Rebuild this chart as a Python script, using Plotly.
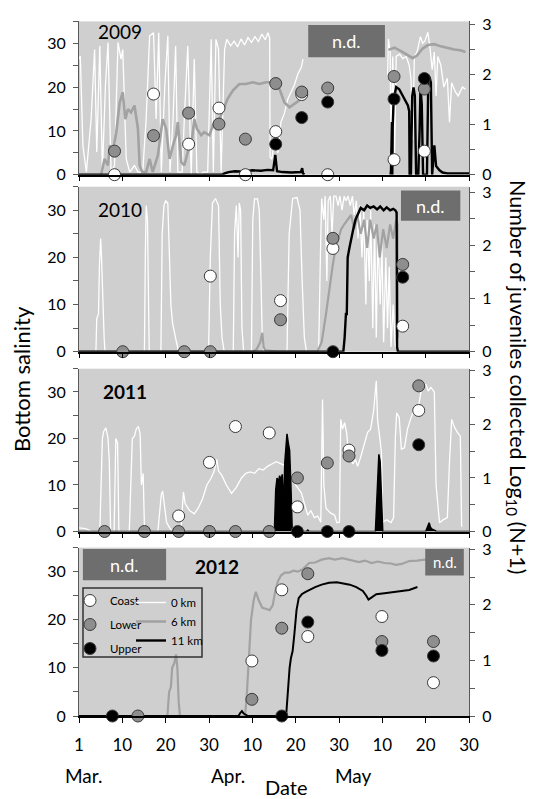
import plotly.graph_objects as go

# ---------------- axis / label data ----------------
# x = days since 1 March (0 = Mar 1 ... 90 = May 30)
tick_vals = [0, 10, 20, 30, 40, 50, 60, 70, 80, 90]
tick_text = ["1", "10", "20", "30", "10", "20", "30", "10", "20", "30"]
month_text = ["Mar.", "Apr.", "May"]
month_pos = [1.1, 34.4, 63.4]
years = ["2009", "2010", "2011", "2012"]

# ---------------- 2009 salinity lines ----------------
w09_day = [0, 0.3, 0.9, 1.7, 2.8, 3.6, 4.1, 4.8, 5.4, 6.1, 6.7, 7.4, 8.2, 9.0, 9.7, 10.1, 10.9, 11.7, 12.8, 13.6,
           14.7, 15.5, 16.3, 17.2, 17.8, 18.4, 19.0, 19.8, 20.5, 21.0, 21.7, 22.3, 22.8, 23.8, 24.3, 25.1, 25.9, 26.6,
           27.2, 27.9, 28.7, 29.7, 30.5, 31.0, 31.6, 32.2, 32.8, 33.2, 33.6, 34.1, 35.0, 35.8, 36.6, 37.4, 38.2, 39.0,
           39.8, 40.6, 41.4, 42.2, 43.0, 43.6, 44.0, 44.1, 44.5, 45.1, 45.9, 46.6, 47.4, 48.2, 49.0, 49.7, 50.5, 51.3,
           51.7, None, 71.2, 71.4, 71.8, 72.0, 72.4, 72.8, 73.2, 74.0, 74.7, 75.5, 76.2, 76.6, 77.0, 77.4, 78.0, 78.8,
           79.3, 79.8, 80.5, 81.0, 81.5, 82.0, 82.4, 82.8, 83.5, 84.2, 85.0, 85.5, 86.0, 86.8, 87.5, 88.5, 89.2]
w09_sal = [26.4, 27.1, 6.7, 0.6, 12.7, 28.6, 5.2, 29.4, 0.6, 20.3, 30.2, 0.6, 2.1, 30.2, 26.4, 28.6, 3.6, 0.6, 2.1, 0.6,
           0.6, 12.7, 31.7, 32.4, 12.7, 32.4, 0.6, 20.3, 31.7, 0.6, 12.7, 29.4, 0.6, 0.6, 12.7, 29.4, 0, 26.4,
           0.6, 0, 0.6, 0.6, 30.9, 0.6, 30.9, 28.6, 0.6, 12.7, 28.6, 30.9, 29.4, 30.5, 29.2, 31.0, 29.6, 31.3,
           30.2, 31.5, 30.4, 32.1, 30.8, 32.4, 31.2, 4.0, 3.5, 8, 5, 12, 14, 17.3, 19, 20.5, 23, 24.5,
           26.4, None, 22, 31, 28, 6, 27, 3, 27, 27.5, 26.5, 27, 25, 22, 8, 27, 28, 31.5,
           30, 30.5, 32.5, 29, 24, 28, 18, 27, 25, 20, 22, 12, 21, 19, 18, 20, 19.5]
g09_day = [5.1, 5.9, 6.7, 7.1, 7.8, 8.6, 9.4, 10.1, 10.7, 11.3, 12.0, 12.8, 13.6, 14.0, 14.6, 15.5, 16.3, 17.0, 18.2,
           19.3, 20.1, 20.9, 21.7, 22.4, 22.8, 23.6, 24.3, 25.1, 25.9, 26.6, 27.2, 28.2, 28.9, 30.1, 30.9, 31.6, 32.4,
           33.6, 34.3, 35.5, 37.0, 38.5, 40.1, 41.6, 43.2, 44.5, 45.1, 46.3, 47.4, 48.6, 49.7, 51.3, None,
           71.4, 72.8, 74.5, 75.8, 77.0, 78.0, 79.3, 80.5, 82.0, 83.5, 85.0, 86.6, 88.0, 89.2]
g09_sal = [0, 3.6, 2.1, 6.7, 5.2, 9.7, 16.5, 18.8, 12.7, 15.0, 14.2, 15.8, 10.5, 2.1, 0.6, 0.6, 3.6, 0.6, 4.4,
           12.7, 10.5, 3.6, 6.7, 9.0, 12.0, 2.9, 2.1, 5.2, 6.7, 12.7, 10.5, 9.0, 9.7, 9.0, 11.2, 10.5, 12.7,
           15.8, 17.3, 19.2, 20.7, 20.7, 21.1, 20.7, 21.1, 21.1, 21.1, 19.5, 16.5, 15.4, 16.1, 17.3, None,
           28.5, 29.0, 28.1, 27.3, 26.6, 27.2, 28.8, 29.6, 29.8, 29.3, 28.9, 28.6, 28.4, 28.0]
b09_day = [0, 33.0, 33.6, 34.5, 36.0, 38.0, 40.0, 42.0, 43.5, 44.8, 45.3, 45.7, 47.0, 49.0, 51.2, 51.5, 51.7, 52.0,
           None, 71.9, 72.0, 72.2, 72.3, 72.4, 72.6, 72.9, 73.2, 73.9, 74.7, 75.4, 75.9, 76.2, 76.3, 76.6, 76.9,
           77.2, 77.5, 77.8, 78.3, 78.6, 78.8, 79.1, 79.4, 80.3, 80.6, 80.9, 81.2, 81.5, 82.0, 82.4, 83.2, 83.9,
           85.0, 90.0]
b09_sal = [0, 0, 0.3, 0.6, 0.8, 0.7, 1.0, 0.9, 1.1, 1.0, 4.5, 0.8, 0.6, 0.5, 0.6, 1.5, 0.3, 0,
           None, 0, 1, 12, 0, 11, 17, 18.5, 20, 19.5, 18, 17, 15.8, 14.5, 0, 0, 18,
           19.9, 18, 0, 0, 10, 20, 16, 0, 0, 21.5, 22.3, 21, 0, 6.7, 2, 1, 0.5,
           0.3, 0.3]

# ---------------- 2010 salinity lines ----------------
w10_day = [0, 3.9, 4.1, 4.5, 4.7, 5.0, 5.2, 5.5, 5.8, 6.0, 15.1, 15.3, 15.5, 15.8, 16.2, 18.9, 19.2, 19.6, 20.0,
           20.5, 20.9, 21.2, 21.6, 22.0, 22.5, 23.0, 29.9, 30.3, 30.8, 31.5, 32.2, 32.6, 33.0, 33.5, 35.6, 35.9,
           36.3, 36.7, 37.0, 37.3, 37.6, 38.0, 39.8, 40.1, 40.5, 41.2, 41.6, 42.0, 42.3, 42.7, 48.0, 48.5, 49.3,
           50.3, 51.0, 51.5, 52.0, 52.5, 55.3, 55.7, 56.0, 56.5, 56.8, 57.2, 57.5, 58.0, 58.4, 58.8, 59.3, 59.8,
           60.2, 60.7, 61.2, 61.6, 62.1, 62.6, 63.1, 63.5, 64.0, 64.4, 64.8, 65.3, 65.7, 66.2, 66.5, 67.0, 67.3,
           67.8, 68.2, 68.6, 69.0, 69.5, 69.9, 70.3, 70.8, 71.2, 71.6, 72.0, 72.5, 73.0, 73.4]
w10_sal = [0, 0, 7, 8, 18, 24, 20, 9, 3, 0, 0, 20, 31, 28, 0, 0, 25, 31, 32,
           31.5, 20, 10, 6, 4, 2, 0, 0, 20, 31.5, 32.5, 31, 10, 3, 0, 0, 25,
           31, 20, 31.5, 30, 5, 0, 0, 28, 32.4, 32.4, 30, 15, 3, 0, 0, 25, 32.5,
           32.7, 30, 15, 3, 0, 0, 20, 32.5, 28, 33, 15, 32, 33, 25, 33, 33, 31,
           33, 30, 33, 32, 33, 31, 33, 29, 32, 24, 31, 20, 30, 10, 28, 15, 30,
           5, 27, 3, 25, 10, 23, 2, 20, 5, 18, 1, 10, 1, 2]
g10_day = [0, 40.0, 41.0, 41.8, 42.3, 42.6, 43.0, 44.0, 46.0, 55.0, 56.0, 57.0, 57.8, 58.5, 59.2, 59.8, 60.5, 61.2,
           62.0, 62.8, 63.5, 64.2, 65.0, 65.8, 66.5, 67.2, 68.0, 68.7, 69.4, 70.2, 71.0, 71.8, 72.5, 73.2, 73.5, 73.6]
g10_sal = [0, 0, 0.5, 2, 4, 1, 0.3, 0.2, 0, 0, 2, 8, 14, 18, 22, 24, 26, 27,
           28, 29, 26, 29, 25, 28, 22, 28, 24, 27, 20, 26, 22, 27, 24, 28, 27, 3]
b10_day = [0, 61.0, 61.3, 61.6, 61.8, 62.0, 62.4, 62.8, 63.3, 63.8, 64.3, 65.0, 65.8, 66.5, 67.2, 68.0, 68.8, 69.5,
           70.3, 71.0, 71.8, 72.5, 73.0, 73.3, 73.4, 73.6, 90]
b10_sal = [0, 0, 3, 8, 8, 20, 22, 24, 26, 28, 29, 30.5, 30, 31, 30.5, 30.8, 30.2, 30.8,
           30, 30.6, 30, 30.3, 30, 29.5, 1, 0, 0]

# ---------------- 2011 salinity lines ----------------
w11_day = [0, 1.5, 3.0, 4.8, 5.4, 5.7, 6.2, 6.7, 7.0, 7.3, 8.1, 8.5, 8.9, 9.2, 11.6, 12.0, 12.3, 12.8, 13.2, 13.7,
           14.1, 14.4, 14.8, 15.1, 15.5, 18.2, 18.6, 19.0, 19.3, 19.7, 20.2, 20.8, 21.5, 23.0, 23.5, 24.1, 24.5, 25.5,
           26.6, 27.5, 28.5, 29.5, 30.5, 31.2, 31.8, 32.2, 33.0, 34.0, 35.2, 36.3, 37.5, 38.5, 39.5, 40.5, 41.5, 42.5,
           43.5, 44.5, 45.5, 46.5, 47.5, 48.2, 49.0, 50.0, 51.3, 52.0, 52.8, 53.5, 54.3, 55.1, 55.8, 56.2, 56.5, 57.0,
           58.0, 59.0, 59.5, 60.1, 60.4, 60.8, 61.3, 61.8, 62.1, 62.6, 63.2, 63.8, 64.3, 65.0, 65.8, 66.6, 67.3, 68.0,
           68.6, 68.9, 69.3, 69.8, 70.1, 71.0, 72.0, 72.6, 73.0, 73.3, 73.9, 74.4, 75.1, 75.8, 76.5, 77.4, 78.0, 78.6,
           79.3, 80.1, 80.6, 81.2, 82.0, 82.4, 83.2, 84.0, 85.0, 85.5, 86.0, 86.6, 87.3, 88.0, 88.3]
w11_sal = [0.8, 0.6, 0, 0, 20, 21.5, 22.3, 20, 15, 0, 0, 20, 19, 0, 0, 10, 20, 20.5, 22, 22.6,
           21, 10, 12.5, 1, 0, 0, 5, 8, 8.7, 6, 2, 1, 0, 0, 0, 8.5, 6, 4.5,
           3.8, 5, 7, 10, 11.5, 13, 15.5, 13, 12, 10, 8.2, 9.5, 11.5, 12.5, 12.8, 12.5, 13.5, 13.2,
           14, 14.5, 15.0, 14.6, 14.2, 13.5, 11.9, 10, 8.3, 6, 3.5, 4.5, 3.0, 3.3, 2, 28.4, 10, 5.0,
           4.0, 3.5, 1.9, 2, 24.1, 22, 23.4, 21, 17.7, 16, 14.5, 15.5, 14, 16, 18.5, 21.3, 22, 26,
           32.4, 24, 21, 17, 2, 2.5, 1.9, 3, 20, 25.5, 24.5, 17.7, 18, 22, 24.1, 26.5, 25, 28,
           32.0, 31.5, 30.2, 31, 30, 10, 1.9, 2.5, 3, 15, 24.1, 22.5, 21.3, 20.5, 1]
b11_day = [0, 44.8, 45.1, 45.4, 45.7, 46.0, 46.3, 46.6, 46.9, 47.2, 47.5, 47.8, 48.0, 48.3, 48.6, 48.9, 49.2, 49.6,
           52.5, 52.8, 53.1, 68.4, 68.8, 69.2, 69.5, 69.8, 70.1, 80.0, 80.4, 80.8, 81.1, 81.5, 82.0, 82.5, 90]
b11_sal = [0, 0, 0.5, 9, 11.5, 10.5, 12, 11, 12.3, 5, 15, 20, 21, 19, 17.5, 10, 0.5, 0,
           0, 0.3, 0, 0, 8, 16.6, 15, 6, 0, 0, 0.8, 1.9, 0.9, 0.5, 0.3, 0, 0]

# ---------------- 2012 salinity lines ----------------
g12_day = [0, 20.4, 20.8, 21.2, 21.5, 22.0, 22.4, 22.7, 23.0, 23.3, 38.3, 38.7, 39.2, 39.7, 40.3, 40.8, 41.5, 42.3,
           43.1, 44.0, 44.7, 45.3, 45.9, 46.6, 47.5, 48.5, 49.5, 50.5, 51.6, 52.5, 53.1, 54.5, 56.0, 57.7, 59.0,
           60.8, 62.5, 64.6, 66.0, 67.5, 69.0, 70.5, 72.0, 73.1, 74.5, 76.2, 78.0, 79.3, 80.8]
g12_sal = [0, 0, 5, 6, 10, 11, 12.8, 10, 3, 0, 0, 4, 12, 20, 24, 25.8, 24, 22.5,
           22.3, 22, 23, 26, 28, 29.2, 29.8, 29.8, 30.2, 30, 30.5, 31.2, 31.8, 31.9, 32.5, 32.8, 32.5,
           32.8, 32.4, 32.0, 32.3, 31.8, 32.1, 31.8, 31.7, 31.4, 31.6, 32.2, 32.3, 32.5, 32.6]
b12_day = [0, 36.8, 37.2, 37.6, 38.0, 38.6, 39.0, 47.8, 48.0, 48.3, 48.6, 48.9, 49.3, 49.7, 50.2, 50.7, 51.4, 52.3,
           53.1, 54.5, 56.0, 57.7, 59.5, 60.8, 62.5, 64.0, 65.5, 66.3, 66.8, 67.3, 68.6, 70.5, 72.4, 74.5, 76.2, 78.1]
b12_sal = [0, 0, 0.6, 1, 0.5, 0.3, 0, 0, 3, 8, 10, 12, 13.5, 17, 22, 24.5, 25.3, 25.8,
           26.2, 26.8, 27.3, 27.7, 27.8, 27.6, 27.3, 26.8, 26, 25, 24.2, 24.5, 25.3, 25.5, 25.7, 26, 26.2, 26.8]

# ---------------- juveniles, log10(N+1) ----------------
d09 = [8.2, 17.2, 25.3, 32.3, 38.4, 45.4, 51.4, 57.4, 72.7, 79.7]
coast09 = [0, 1.61, 0.61, 1.33, 0, 0.86, 1.60, 0, 0.30, 0.47]
lower09 = [0.47, 0.78, 1.23, 1.01, 0.71, 1.82, 1.65, 1.73, 1.96, 1.71]
upper09 = [None, None, None, None, None, 0.61, 1.14, 1.45, 1.51, 1.92]

d10 = [10.1, 24.3, 30.3, 46.5, 58.6, 74.7]
coast10 = [None, None, 1.42, 0.96, 1.94, 0.48]
lower10 = [0, 0, 0, 0.60, 2.13, 1.64]
upper10 = [None, None, None, None, 0, 1.40]

d11 = [5.9, 15.1, 23.0, 30.1, 36.1, 43.9, 50.4, 57.3, 62.3, 78.4]
coast11 = [None, None, 0.29, 1.29, 1.96, 1.84, 0.46, None, 1.52, 2.26]
lower11 = [0, 0, 0, 0, 0, 0, 1.00, 1.28, 1.41, 2.72]
upper11 = [None, None, None, None, None, None, 0, 0, 0, 1.62]

d12 = [7.7, 13.6, 39.9, 46.8, 52.8, 69.9, 81.8]
coast12 = [None, None, 0.99, 2.27, 1.43, 1.79, 0.60]
lower12 = [None, 0, 0.30, 1.58, 2.56, 1.34, 1.34]
upper12 = [0, None, None, 0, 1.69, 1.18, 1.08]

# n.d. (no data) boxes: [x0, x1, y0, y1] in (day, salinity) per panel
nd_boxes = {1: [[52.9, 70.6, 26.8, 34.2]],
            2: [[74.3, 88.0, 27.8, 34.2]],
            4: [[0.9, 20.1, 28.2, 34.7], [79.9, 88.8, 29.2, 34.7]]}
nd_font = {1: [18], 2: [18], 4: [18, 15]}
year_pos = [(9.5, 32.6), (9.5, 30.2), (10.7, 30.0), (31.9, 31.1)]
year_bold = [False, False, True, True]

# ---------------- styling ----------------
FONT = "Lato, 'Open Sans', sans-serif"
W, H = 534, 799
ML, MR, MT, MB = 79, 65, 21, 83
PH = H - MT - MB
BOT = H - MB
panel_px = [(21.4, 174.7), (186.7, 351.7), (368.7, 531.5), (547.6, 716.0)]
right_top = [3.06, 3.1, 3.04, 3.03]
BG = "#cfcfcf"
WHITE_C, GRAY_L, BLACK_C = "#ffffff", "#a2a2a2", "#000000"
GRAY_M = "#8e8e8e"
AX = "#595959"

fig = go.Figure()


def ids(i):
    x = "x" if i == 1 else f"x{i}"
    yl = "y" if i == 1 else f"y{2 * i - 1}"
    yr = f"y{2 * i}"
    return x, yl, yr


def add_line(i, xs, ys, color, width, name, show, fill=None):
    x, yl, _ = ids(i)
    n = min(len(xs), len(ys))
    fig.add_trace(go.Scatter(x=xs[:n], y=ys[:n], mode="lines", line=dict(color=color, width=width),
                             xaxis=x, yaxis=yl, name=name, showlegend=show, legend="legend2",
                             connectgaps=False, fill=fill, fillcolor=color if fill else None,
                             hoverinfo="skip"))


def add_pts(i, xs, ys, fill, name, show):
    x, _, yr = ids(i)
    n = min(len(xs), len(ys))
    fig.add_trace(go.Scatter(x=xs[:n], y=ys[:n], mode="markers",
                             marker=dict(size=12, color=fill, line=dict(color="#3a3a3a", width=1)),
                             xaxis=x, yaxis=yr, name=name, showlegend=show, legend="legend",
                             legendgroup=name, cliponaxis=False, hoverinfo="skip"))


# 2009
add_line(1, w09_day, w09_sal, WHITE_C, 1.3, "0 km", True)
add_line(1, g09_day, g09_sal, GRAY_L, 2.6, "6 km", True)
add_line(1, b09_day, b09_sal, BLACK_C, 2.4, "11 km", True)
# 2010
add_line(2, w10_day, w10_sal, WHITE_C, 1.3, "0 km", False)
add_line(2, g10_day, g10_sal, GRAY_L, 2.2, "6 km", False)
add_line(2, b10_day, b10_sal, BLACK_C, 2.4, "11 km", False)
# 2011
add_line(3, w11_day, w11_sal, WHITE_C, 1.3, "0 km", False)
add_line(3, b11_day, b11_sal, BLACK_C, 1.5, "11 km", False, fill="tozeroy")
# 2012
add_line(4, g12_day, g12_sal, GRAY_L, 2.2, "6 km", False)
add_line(4, b12_day, b12_sal, BLACK_C, 2.0, "11 km", False)

for i, (d, c, lo, up) in enumerate([(d09, coast09, lower09, upper09), (d10, coast10, lower10, upper10),
                                    (d11, coast11, lower11, upper11), (d12, coast12, lower12, upper12)], start=1):
    add_pts(i, d, c, "#ffffff", "Coast", i == 1)
    add_pts(i, d, lo, GRAY_M, "Lower", i == 1)
    add_pts(i, d, up, "#000000", "Upper", i == 1)

layout = dict(width=W, height=H, margin=dict(l=ML, r=MR, t=MT, b=MB), paper_bgcolor="white",
              plot_bgcolor=BG, font=dict(family=FONT, size=17, color="black"), hovermode=False)

shapes, annots = [], []
for i in range(1, 5):
    x, yl, yr = ids(i)
    top, bot = panel_px[i - 1]
    dom = [max(0.0, (BOT - bot) / PH), min(1.0, (BOT - top) / PH)]
    xa = dict(domain=[0, 1], range=[0, 90], anchor=yl, showline=True, linecolor="black", linewidth=1.5,
              ticks="outside", ticklen=5, tickcolor="black", tickvals=tick_vals, ticktext=tick_text,
              showticklabels=(i == 4), showgrid=False, zeroline=False, fixedrange=True,
              tickfont=dict(size=17), ticklabelstandoff=8)
    if i > 1:
        xa["matches"] = "x"
    layout["xaxis" if i == 1 else f"xaxis{i}"] = xa
    layout["yaxis" if i == 1 else f"yaxis{2 * i - 1}"] = dict(
        domain=dom, range=[0, 35], anchor=x, showline=True, linecolor=AX, linewidth=1, ticks="outside",
        ticklen=5, tickcolor=AX, tick0=0, dtick=10,
        minor=dict(ticks="outside", ticklen=5, tickcolor=AX, dtick=5, tick0=0, showgrid=False),
        showgrid=False, zeroline=False, fixedrange=True, tickfont=dict(size=16), ticklabelstandoff=4)
    layout[f"yaxis{2 * i}"] = dict(
        overlaying=yl, side="right", range=[0, right_top[i - 1]], anchor=x, showline=True, linecolor=AX,
        linewidth=1, ticks="outside", ticklen=5, tickcolor=AX, tick0=0, dtick=1,
        minor=dict(ticks="outside", ticklen=5, tickcolor=AX, dtick=0.5, tick0=0, showgrid=False),
        showgrid=False, zeroline=False, fixedrange=True, tickfont=dict(size=16), ticklabelstandoff=4)
    # year label
    yx, yy = year_pos[i - 1]
    txt = f"<b>{years[i - 1]}</b>" if year_bold[i - 1] else years[i - 1]
    annots.append(dict(x=yx, y=yy, xref=x, yref=yl, text=txt, showarrow=False, font=dict(size=19),
                       xanchor="center", yanchor="middle"))
    # n.d. boxes
    for k, (x0, x1, y0, y1) in enumerate(nd_boxes.get(i, [])):
        shapes.append(dict(type="rect", xref=x, yref=yl, x0=x0, x1=x1, y0=y0, y1=y1,
                           fillcolor="#6e6e6e", line=dict(width=0), layer="above"))
        annots.append(dict(x=(x0 + x1) / 2, y=(y0 + y1) / 2, xref=x, yref=yl, text="n.d.", showarrow=False,
                           font=dict(size=nd_font[i][k], color="white"), xanchor="center", yanchor="middle"))


def py(p):
    return (BOT - p) / PH


def px(p):
    return (p - ML) / (W - ML - MR)


# month labels and axis titles
for t, pos in zip(month_text, month_pos):
    annots.append(dict(x=pos, y=py(775), xref="x4", yref="paper", text=t, showarrow=False,
                       font=dict(size=19), xanchor="center", yanchor="middle"))
annots.append(dict(x=px(286), y=py(787), xref="paper", yref="paper", text="Date", showarrow=False,
                   font=dict(size=20), xanchor="center", yanchor="middle"))
annots.append(dict(x=px(21), y=py(379), xref="paper", yref="paper", text="Bottom salinity", showarrow=False,
                   font=dict(size=22), textangle=-90, xanchor="center", yanchor="middle"))
annots.append(dict(x=px(517), y=py(377), xref="paper", yref="paper",
                   text="Number of juveniles collected Log<sub>10</sub> (N+1)", showarrow=False,
                   font=dict(size=21.5), textangle=90, xanchor="center", yanchor="middle"))

# legend frame
shapes.append(dict(type="rect", xref="paper", yref="paper", x0=px(83), x1=px(202), y0=py(657), y1=py(588),
                   line=dict(color="#333333", width=1.5), fillcolor="rgba(0,0,0,0)", layer="above"))

layout["shapes"] = shapes
layout["annotations"] = annots
layout["legend"] = dict(x=px(70), y=py(586), xanchor="left", yanchor="top", bgcolor="rgba(0,0,0,0)",
                        borderwidth=0, font=dict(size=11.5), itemwidth=30, tracegroupgap=5,
                        traceorder="grouped", itemclick=False, itemdoubleclick=False)
layout["legend2"] = dict(x=px(131), y=py(588), xanchor="left", yanchor="top", bgcolor="rgba(0,0,0,0)",
                         borderwidth=0, font=dict(size=11.5), itemwidth=30, traceorder="normal",
                         itemclick=False, itemdoubleclick=False)

fig.update_layout(**layout)
fig.write_html("out.html")
